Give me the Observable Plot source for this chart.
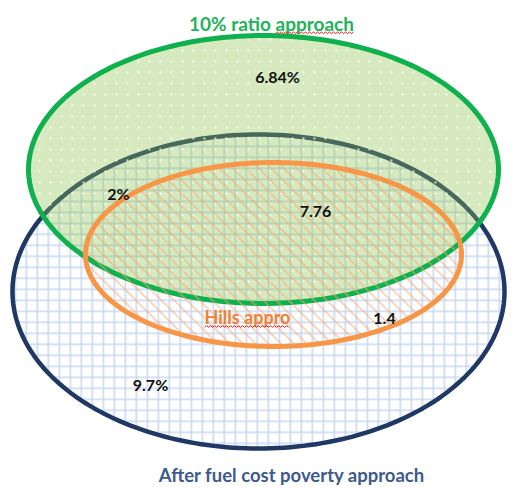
<!DOCTYPE html>
<html>
<head>
<meta charset="utf-8">
<script src="https://cdn.jsdelivr.net/npm/d3@7"></script>
<script src="https://cdn.jsdelivr.net/npm/@observablehq/plot@0.6"></script>
<style>
  html, body { margin: 0; padding: 0; background: #fff; }
  #chart { width: 513px; height: 488px; }
</style>
</head>
<body>
<div id="chart"></div>
<script>
// ---- data ----
const setNames = ["After fuel cost poverty approach", "10% ratio approach", "Hills appro"];
const regionLabels = ["6.84%", "2%", "7.76", "1.4", "9.7%"];

// ---- layout (shape geometry, in pixels) ----
const ellipseCx = [258, 263, 273];
const ellipseCy = [291, 169, 254];
const ellipseRx = [246, 235, 188];
const ellipseRy = [157, 134, 92];
const labelX = [277, 118, 315, 384, 150];
const labelY = [77, 194, 211, 318, 385];
const nameX = [291, 271, 247];
const nameY = [476, 24, 318];
const nameColor = ["#3d5a8c", "#22b35a", "#ee8236"];
const nameSize = [18.5, 19, 18];

function ellipsePoints(i) {
  const pts = [];
  const n = 240;
  for (let k = 0; k <= n; k++) {
    const t = (k / n) * 2 * Math.PI;
    pts.push({x: ellipseCx[i] + ellipseRx[i] * Math.cos(t), y: ellipseCy[i] + ellipseRy[i] * Math.sin(t)});
  }
  return pts;
}
const navy = ellipsePoints(0), green = ellipsePoints(1), orange = ellipsePoints(2);

const labels = regionLabels.map((t, i) => ({t, x: labelX[i], y: labelY[i]}));
const names = setNames.map((t, i) => ({t, x: nameX[i], y: nameY[i], c: nameColor[i], s: nameSize[i]}));

const font = "Lato, 'Open Sans', sans-serif";

const svg = Plot.plot({
  width: 513,
  height: 488,
  margin: 0,
  x: {type: "linear", domain: [0, 513], range: [0, 513], axis: null},
  y: {type: "linear", domain: [0, 488], range: [0, 488], axis: null},
  style: {background: "#fff", fontFamily: font},
  marks: [
    // navy set
    Plot.line(navy, {x: "x", y: "y", fill: "url(#gridPat)", stroke: "none", curve: "linear-closed"}),
    Plot.line(navy, {x: "x", y: "y", stroke: "#1f3864", strokeWidth: 4.5, curve: "linear-closed"}),
    // green set
    Plot.line(green, {x: "x", y: "y", fill: "#8dc34d", fillOpacity: 0.36, stroke: "none", curve: "linear-closed"}),
    Plot.line(green, {x: "x", y: "y", fill: "url(#dotPat)", stroke: "none", curve: "linear-closed"}),
    Plot.line(green, {x: "x", y: "y", stroke: "#0fb04e", strokeWidth: 5, curve: "linear-closed"}),
    // orange set
    Plot.line(orange, {x: "x", y: "y", fill: "url(#hatchPat)", stroke: "none", curve: "linear-closed"}),
    Plot.line(orange, {x: "x", y: "y", stroke: "#f79646", strokeWidth: 5, curve: "linear-closed"}),
    // region values
    Plot.text(labels, {x: "x", y: "y", text: "t", fill: "#111", fontSize: 16, fontWeight: "bold"}),
    // set names
    Plot.text(names, {x: "x", y: "y", text: "t", fill: "c", fontSize: "s", fontWeight: "bold"})
  ]
});

// pattern definitions
const defs = `
<defs>
  <pattern id="gridPat" patternUnits="userSpaceOnUse" width="11" height="11" x="3" y="2">
    <rect width="11" height="11" fill="#ffffff"/>
    <path d="M0.75 0 V11 M0 0.75 H11" stroke="#c6d8f0" stroke-width="1.6" fill="none"/>
  </pattern>
  <pattern id="dotPat" patternUnits="userSpaceOnUse" width="11" height="11" x="0" y="0">
    <rect x="5" y="5" width="1.8" height="1.8" fill="#ffffff" fill-opacity="0.9"/>
  </pattern>
  <pattern id="hatchPat" patternUnits="userSpaceOnUse" width="9" height="9" patternTransform="rotate(-45)">
    <line x1="0" y1="0" x2="0" y2="9" stroke="#f7a870" stroke-opacity="0.6" stroke-width="3"/>
  </pattern>
</defs>`;
svg.insertAdjacentHTML("afterbegin", defs);

document.getElementById("chart").appendChild(svg);

// spell-check squiggle under parts of names (as in the source)
function squiggle(el, from, to) {
  const bb = el.getBBox();
  const x0 = bb.x + (from > 0 ? el.getSubStringLength(0, from) : 0);
  const x1 = bb.x + el.getSubStringLength(0, to);
  const y = bb.y + bb.height - 1;
  let d = `M${x0},${y}`;
  let up = true;
  for (let x = x0 + 2; x <= x1; x += 2) { d += ` L${x},${up ? y - 1.6 : y}`; up = !up; }
  const p = document.createElementNS("http://www.w3.org/2000/svg", "path");
  p.setAttribute("d", d);
  p.setAttribute("fill", "none");
  p.setAttribute("stroke", "#e51c1c");
  p.setAttribute("stroke-width", "1");
  const tr = el.getAttribute("transform");
  if (tr) p.setAttribute("transform", tr);
  el.parentNode.appendChild(p);
}
d3.select(svg).selectAll("text").each(function() {
  const s = this.textContent;
  if (s === "Hills appro") squiggle(this, 0, s.length);
  if (s === "10% ratio approach") squiggle(this, 10, s.length);
});
</script>
</body>
</html>
